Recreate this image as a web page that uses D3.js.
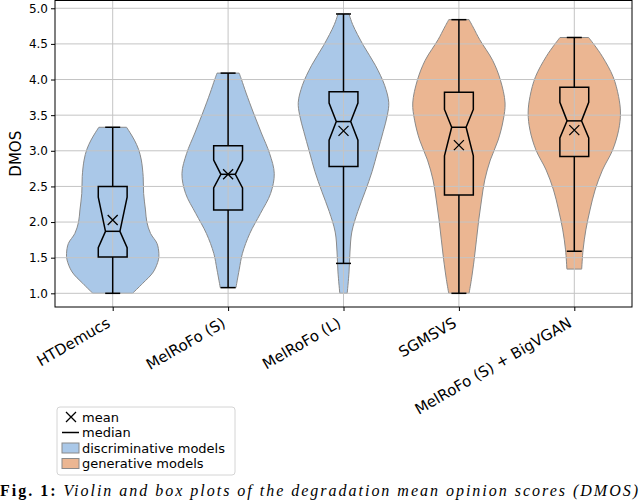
<!DOCTYPE html>
<html>
<head>
<meta charset="utf-8">
<script src="https://cdn.jsdelivr.net/npm/d3@7"></script>
<style>
  body { margin: 0; background: #fff; }
  text { font-family: "DejaVu Sans", sans-serif; }
</style>
</head>
<body>
<div id="chart-area"></div>
<script>

// chart values
let models = ["HTDemucs", "MelRoFo (S)", "MelRoFo (L)", "SGMSVS", "MelRoFo (S) + BigVGAN"];
let groups = ["disc", "disc", "disc", "gen", "gen"];

let whiskerLow  = [1.00, 1.08, 1.42, 1.00, 1.59];
let q1          = [1.51, 2.17, 2.78, 2.38, 2.92];
let medians     = [1.87, 2.67, 3.41, 3.33, 3.42];
let q3          = [2.50, 3.07, 3.83, 3.82, 3.89];
let whiskerHigh = [3.33, 4.09, 4.92, 4.84, 4.59];
let notchLow    = [1.64, 2.48, 3.15, 2.93, 3.18];
let notchHigh   = [2.35, 2.87, 3.67, 3.58, 3.68];
let means       = [2.03, 2.67, 3.28, 3.08, 3.29];

// violin outlines: [DMOS, relative density]
let violinHTDemucs = [[1.0,.43],[1.14,.65],[1.30,.88],[1.47,.99],[1.56,1.0],[1.70,.96],[1.84,.82],[2.0,.74],[2.17,.71],[2.40,.67],[2.64,.66],[2.87,.62],[3.02,.56],[3.15,.47],[3.26,.37],[3.33,.30]];
let violinMelS = [[1.08,.17],[1.33,.24],[1.56,.31],[1.84,.47],[2.12,.70],[2.40,.92],[2.68,1.0],[2.96,.90],[3.25,.72],[3.53,.55],[3.81,.39],[4.0,.29],[4.09,.24]];
let violinMelL = [[1.0,.08],[1.30,.12],[1.58,.14],[1.86,.18],[2.15,.31],[2.43,.47],[2.71,.62],[2.99,.74],[3.27,.86],[3.50,.95],[3.68,.98],[3.92,.89],[4.20,.69],[4.48,.43],[4.77,.20],[4.92,.12]];
let violinSGMSVS = [[1.0,.22],[1.19,.27],[1.47,.33],[1.75,.38],[2.03,.43],[2.31,.49],[2.59,.56],[2.87,.68],[3.15,.85],[3.43,.96],[3.67,1.0],[3.99,.90],[4.27,.73],[4.56,.45],[4.72,.32],[4.84,.22]];
let violinBigVGAN = [[1.34,.16],[1.61,.19],[1.89,.25],[2.17,.34],[2.45,.45],[2.73,.61],[3.01,.83],[3.29,.96],[3.53,1.0],[3.76,.96],[4.04,.84],[4.32,.61],[4.48,.44],[4.59,.31]];
let violins = [violinHTDemucs, violinMelS, violinMelL, violinSGMSVS, violinBigVGAN];

let yTicks = [1.0, 1.5, 2.0, 2.5, 3.0, 3.5, 4.0, 4.5, 5.0];
let legendLabels = ["mean", "median", "discriminative models", "generative models"];

let colors = {disc: "#aac8e8", gen: "#ebb692"};

// margin conventions
let margin = {top: 0.5, right: 8, bottom: 193, left: 55};
let width = 640 - margin.left - margin.right;
let height = 500 - margin.top - margin.bottom;

let root = d3.select("#chart-area").append("svg")
    .attr("width", 640)
    .attr("height", 500);

let svg = root.append("g")
    .attr("transform", "translate(" + margin.left + "," + margin.top + ")");

let x = d3.scaleLinear()
    .domain([0.5, 5.5])
    .range([0, width]);

let y = d3.scaleLinear()
    .domain([0.808, 5.109])
    .range([height, 0]);

let violinHalf = 0.4;   // widths=0.8
let boxHalf = 0.125;
let capHalf = 0.065;

let px = v => x(v) - x(0);

// violins first (patches sit under the grid)
let area = d3.area()
    .y(d => y(d[0]))
    .curve(d3.curveCatmullRom.alpha(0.5));

violins.forEach((prof, i) => {
    let cx = x(i + 1);
    svg.append("path")
        .datum(prof)
        .attr("d", area.x0(d => cx - px(violinHalf) * d[1]).x1(d => cx + px(violinHalf) * d[1]))
        .attr("fill", colors[groups[i]])
        .attr("stroke", "#8a8a8a")
        .attr("stroke-width", 1);
});

// grid
svg.append("g")
    .selectAll("line.hgrid")
    .data(yTicks)
    .enter().append("line")
    .attr("x1", 0).attr("x2", width)
    .attr("y1", d => y(d)).attr("y2", d => y(d))
    .attr("stroke", "#c4c4c4")
    .attr("stroke-width", 1);

svg.append("g")
    .selectAll("line.vgrid")
    .data(models)
    .enter().append("line")
    .attr("x1", (d, i) => x(i + 1)).attr("x2", (d, i) => x(i + 1))
    .attr("y1", 0).attr("y2", height)
    .attr("stroke", "#c4c4c4")
    .attr("stroke-width", 1);

// box plots
let boxes = svg.append("g")
    .attr("fill", "none")
    .attr("stroke", "#000")
    .attr("stroke-width", 1.5);

models.forEach((m, i) => {
    let cx = x(i + 1);
    let bw = px(boxHalf), nw = bw / 2, cw = px(capHalf);

    // whiskers + caps
    boxes.append("line").attr("x1", cx).attr("x2", cx).attr("y1", y(q3[i])).attr("y2", y(whiskerHigh[i]));
    boxes.append("line").attr("x1", cx).attr("x2", cx).attr("y1", y(q1[i])).attr("y2", y(whiskerLow[i]));
    boxes.append("line").attr("x1", cx - cw).attr("x2", cx + cw).attr("y1", y(whiskerHigh[i])).attr("y2", y(whiskerHigh[i]));
    boxes.append("line").attr("x1", cx - cw).attr("x2", cx + cw).attr("y1", y(whiskerLow[i])).attr("y2", y(whiskerLow[i]));

    // notched box
    let pts = [
        [cx - bw, y(q1[i])], [cx + bw, y(q1[i])],
        [cx + bw, y(notchLow[i])], [cx + nw, y(medians[i])], [cx + bw, y(notchHigh[i])],
        [cx + bw, y(q3[i])], [cx - bw, y(q3[i])],
        [cx - bw, y(notchHigh[i])], [cx - nw, y(medians[i])], [cx - bw, y(notchLow[i])]
    ];
    boxes.append("path").attr("d", d3.line()(pts) + "Z");
    boxes.append("line").attr("x1", cx - nw).attr("x2", cx + nw).attr("y1", y(medians[i])).attr("y2", y(medians[i]));

    // mean marker
    let my = y(means[i]), s = 5;
    boxes.append("path")
        .attr("stroke-width", 1.3)
        .attr("d", `M${cx - s},${my - s}L${cx + s},${my + s}M${cx - s},${my + s}L${cx + s},${my - s}`);
});

// axes
let yAxis = d3.axisLeft(y).tickValues(yTicks).tickFormat(d3.format(".1f")).tickSize(4).tickPadding(3);
let xAxis = d3.axisBottom(x).tickValues([1, 2, 3, 4, 5]).tickFormat(d => models[d - 1]).tickSize(4);

let yAxisGroup = svg.append("g").attr("class", "y-axis").call(yAxis);
yAxisGroup.select(".domain").remove();
yAxisGroup.selectAll("text").attr("font-size", 12).attr("fill", "#000").attr("font-family", "DejaVu Sans");

let xAxisGroup = svg.append("g").attr("class", "x-axis")
    .attr("transform", "translate(0," + height + ")")
    .call(xAxis);
xAxisGroup.select(".domain").remove();
xAxisGroup.selectAll("text")
    .attr("font-size", 15)
    .attr("font-family", "DejaVu Sans")
    .attr("fill", "#000")
    .attr("text-anchor", "end")
    .attr("dy", null)
    .attr("y", null)
    .attr("transform", "translate(-2,19) rotate(-30)");

// frame
svg.append("rect")
    .attr("x", 0).attr("y", 0)
    .attr("width", width).attr("height", height)
    .attr("fill", "none")
    .attr("stroke", "#000")
    .attr("stroke-width", 1);

root.append("text")
    .attr("transform", "translate(21," + (margin.top + height / 2) + ") rotate(-90)")
    .attr("text-anchor", "middle")
    .attr("font-size", 15)
    .text("DMOS");

// legend
let leg = root.append("g").attr("transform", "translate(57,407)");
leg.append("rect")
    .attr("width", 178).attr("height", 68)
    .attr("rx", 3)
    .attr("fill", "#fff")
    .attr("stroke", "#d4d4d4");

let rowY = [10, 25.5, 41, 56.5];
legendLabels.forEach((lab, i) => {
    leg.append("text")
        .attr("x", 25).attr("y", rowY[i])
        .attr("dy", "0.36em")
        .attr("font-size", 13)
        .text(lab);
});
leg.append("path")
    .attr("d", `M9,${rowY[0] - 5}L19,${rowY[0] + 5}M9,${rowY[0] + 5}L19,${rowY[0] - 5}`)
    .attr("stroke", "#000").attr("stroke-width", 1.3);
leg.append("line")
    .attr("x1", 5).attr("x2", 22).attr("y1", rowY[1]).attr("y2", rowY[1])
    .attr("stroke", "#000").attr("stroke-width", 1.5);
leg.append("rect")
    .attr("x", 5).attr("y", rowY[2] - 5).attr("width", 17).attr("height", 10)
    .attr("fill", colors.disc).attr("stroke", "#8a8a8a");
leg.append("rect")
    .attr("x", 5).attr("y", rowY[3] - 5).attr("width", 17).attr("height", 10)
    .attr("fill", colors.gen).attr("stroke", "#8a8a8a");

// figure caption
let cap = root.append("text")
    .attr("x", 0).attr("y", 496)
    .style("font-family", "'Liberation Serif', serif")
    .attr("font-size", 16)
    .attr("textLength", 638)
    .attr("lengthAdjust", "spacing");
cap.append("tspan").attr("font-weight", "bold").text("Fig. 1:");
cap.append("tspan").attr("font-style", "italic").text(" Violin and box plots of the degradation mean opinion scores (DMOS)");

</script>
</body>
</html>
